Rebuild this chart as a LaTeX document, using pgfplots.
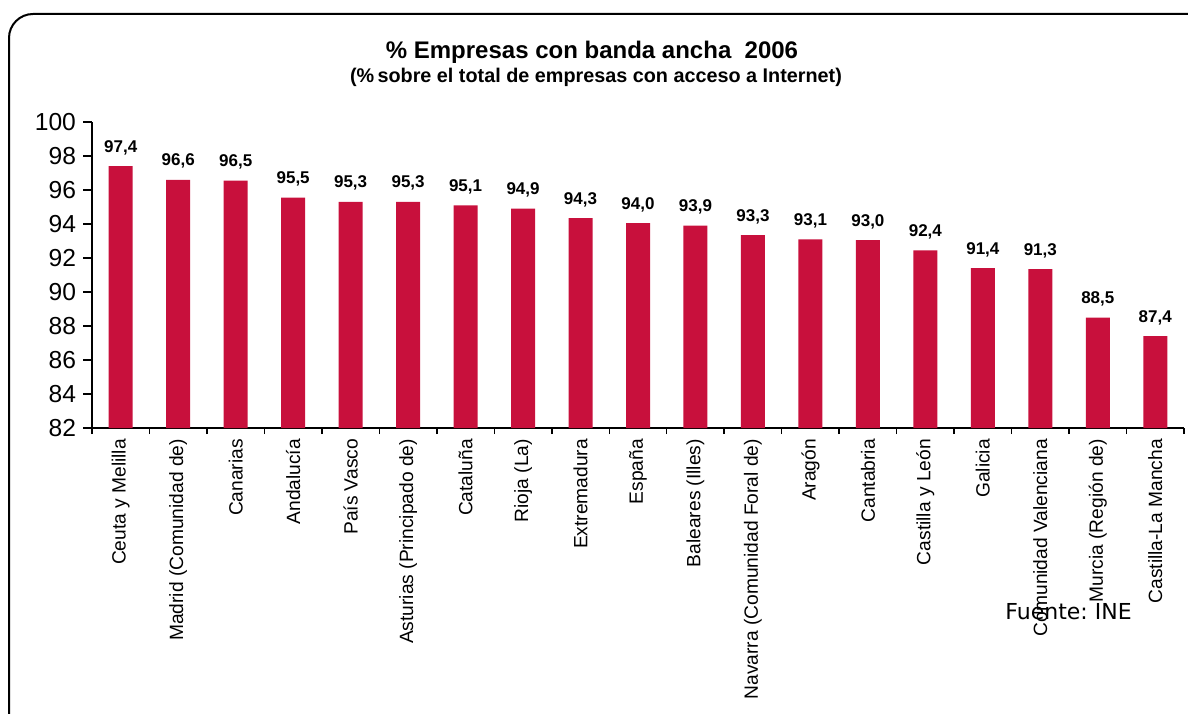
\documentclass[border=0pt]{standalone}
\usepackage{pgfplots}
\pgfplotsset{compat=1.18}
\usepackage{fontspec}
\setmainfont{Liberation Sans}
\newfontfamily\dejavu{DejaVu Sans}
\definecolor{barred}{RGB}{200,16,60}
\frenchspacing
\begin{document}
\begin{tikzpicture}[x=1pt,y=1pt]
\useasboundingbox (0,0) rectangle (594,356.5);
\draw[line width=1pt, rounded corners=12pt] (4.5,-30) -- (4.5,349.5) -- (640,349.5);
\node[font=\bfseries\fontsize{12}{14}\selectfont, anchor=base] at (296,327) {\% Empresas con banda ancha\ \ 2006};
\node[font=\bfseries\fontsize{9.9}{11}\selectfont, anchor=base] at (298,315) {(\%\,sobre el total de empresas con acceso a Internet)};
\begin{axis}[
  at={(46pt,142.5pt)}, anchor=south west,
  scale only axis, width=546pt, height=153pt,
  xmin=0.5, xmax=19.5, ymin=82, ymax=100,
  ytick={82,84,...,100},
  axis lines*=left,
  axis line style={line width=0.75pt},
  every tick/.style={black, line width=0.75pt},
  tick align=outside,
  major tick length=4.5pt,
  xtick={1,...,19},
  x tick style={draw=none},
  minor xtick={0.5,1.5,...,19.5},
  minor x tick style={draw=black},
  minor tick length=3pt,
  xticklabels={Ceuta y Melilla,Madrid (Comunidad de),Canarias,Andalucía,País Vasco,Asturias (Principado de),Cataluña,Rioja (La),Extremadura,España,Baleares (Illes),Navarra (Comunidad Foral de),Aragón,Cantabria,Castilla y León,Galicia,Comunidad Valenciana,Murcia (Región de),Castilla-La Mancha},
  xticklabel style={rotate=90, anchor=east, font=\fontsize{9.6}{10}\selectfont, xshift=2.5pt},
  yticklabel style={font=\fontsize{12.3}{14}\selectfont},
  /pgf/number format/assume math mode=true,
  ybar, bar width=12pt,
  bar shift=0pt,
  nodes near coords,
  point meta=explicit symbolic,
  every node near coord/.append style={font=\bfseries\fontsize{8.5}{10}\selectfont, anchor=base, yshift=7pt, inner sep=0pt},
  clip=false,
]
\addplot[fill=barred, draw=none] table[meta=l] {
x y l
1 97.4 97,4
2 96.6 96,6
3 96.55 96,5
4 95.55 95,5
5 95.3 95,3
6 95.3 95,3
7 95.1 95,1
8 94.9 94,9
9 94.35 94,3
10 94.05 94,0
11 93.9 93,9
12 93.35 93,3
13 93.1 93,1
14 93.05 93,0
15 92.45 92,4
16 91.4 91,4
17 91.35 91,3
18 88.5 88,5
19 87.4 87,4
};
\end{axis}
\node[font=\dejavu\fontsize{11}{13}\selectfont, anchor=base west, inner sep=0pt] at (502.5,47) {Fuente: INE};
\end{tikzpicture}
\end{document}
